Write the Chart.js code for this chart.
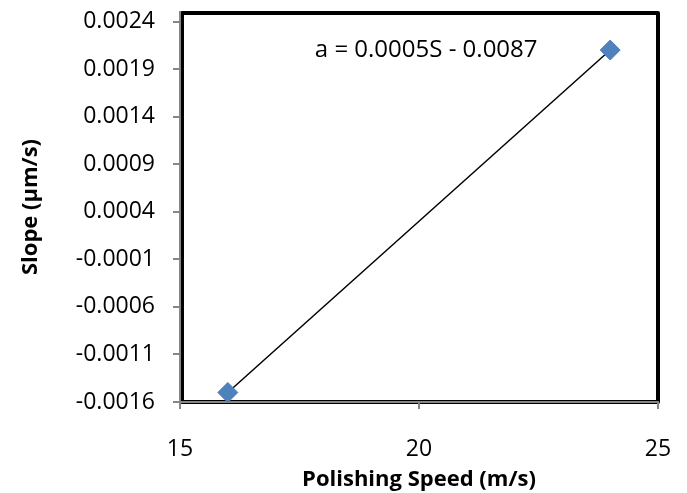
<!DOCTYPE html>
<html>
<head>
<meta charset="utf-8">
<script src="https://cdn.jsdelivr.net/npm/chart.js@4.4.1/dist/chart.umd.min.js"></script>
<style>
  html, body { margin: 0; padding: 0; background: #fff; }
  #wrap { width: 687px; height: 493px; }
</style>
</head>
<body>
<div id="wrap"><canvas id="chart" width="687" height="493"></canvas></div>
<script>
// data
const speeds = [16, 24];
const slopes = [-0.0015, 0.0021];
const xTicks = [15, 20, 25];
const yTicks = [-0.0016, -0.0011, -0.0006, -0.0001, 0.0004, 0.0009, 0.0014, 0.0019, 0.0024];
const equation = 'a = 0.0005S - 0.0087';
const equationAt = { x: 20.15, y: 0.0021 };

const axisGray = '#868686';
const fontFamily = '"Open Sans", sans-serif';

// thick black frame round the plot area, drawn before the axes
const framePlugin = {
  id: 'frame',
  beforeDraw(chart) {
    const { ctx, chartArea: a } = chart;
    ctx.save();
    ctx.strokeStyle = '#000';
    ctx.lineWidth = 4;
    ctx.lineJoin = 'round';
    ctx.strokeRect(a.left + 2, a.top + 1, a.right - a.left - 2, a.bottom - a.top - 1);
    ctx.restore();
  }
};

// trend line equation
const labelPlugin = {
  id: 'eqLabel',
  afterDatasetsDraw(chart) {
    const { ctx, scales } = chart;
    ctx.save();
    ctx.fillStyle = '#000';
    ctx.font = '24px ' + fontFamily;
    ctx.textAlign = 'center';
    ctx.textBaseline = 'middle';
    ctx.fillText(equation, scales.x.getPixelForValue(equationAt.x), scales.y.getPixelForValue(equationAt.y));
    ctx.restore();
  }
};

// keep the layout fixed: no extra room asked for by edge labels
function noPad(s) {
  s.paddingTop = 0;
  s.paddingBottom = 0;
  s.paddingLeft = 0;
  s.paddingRight = 0;
}

new Chart(document.getElementById('chart'), {
  type: 'scatter',
  data: {
    datasets: [{
      data: speeds.map((s, i) => ({ x: s, y: slopes[i] })),
      showLine: true,
      borderColor: '#000',
      borderWidth: 1.5,
      pointStyle: 'rectRot',
      pointRadius: 10,
      pointBackgroundColor: '#4F81BD',
      pointBorderColor: '#4A7EBB',
      pointBorderWidth: 1
    }]
  },
  options: {
    responsive: false,
    animation: false,
    layout: { padding: { top: 12, right: 29, left: 0, bottom: 0 } },
    plugins: {
      legend: { display: false },
      tooltip: { enabled: false }
    },
    scales: {
      x: {
        type: 'linear',
        min: 15,
        max: 25,
        afterBuildTicks: s => { s.ticks = xTicks.map(v => ({ value: v })); },
        afterFit: s => { s.height = 91; noPad(s); },
        grid: { drawOnChartArea: false, color: axisGray, tickLength: 7, lineWidth: 2 },
        border: { color: axisGray, width: 2 },
        ticks: { color: '#000', padding: 27, font: { size: 23, family: fontFamily } },
        title: {
          display: true,
          text: 'Polishing Speed (m/s)',
          color: '#000',
          font: { size: 22, weight: 'bold', family: fontFamily },
          padding: { top: 0, bottom: 0 }
        }
      },
      y: {
        type: 'linear',
        min: -0.0016,
        max: 0.0025,
        afterBuildTicks: s => { s.ticks = yTicks.map(v => ({ value: v })); },
        afterFit: s => { s.width = 180; noPad(s); },
        grid: { drawOnChartArea: false, color: axisGray, tickLength: 7, lineWidth: 2 },
        border: { color: axisGray, width: 2 },
        ticks: {
          color: '#000',
          padding: 18,
          font: { size: 23, family: fontFamily },
          callback: v => v.toFixed(4)
        },
        title: {
          display: true,
          text: 'Slope (µm/s)',
          color: '#000',
          font: { size: 22, weight: 'bold', family: fontFamily },
          padding: { top: 18, bottom: 0 }
        }
      }
    }
  },
  plugins: [framePlugin, labelPlugin]
});
</script>
</body>
</html>
